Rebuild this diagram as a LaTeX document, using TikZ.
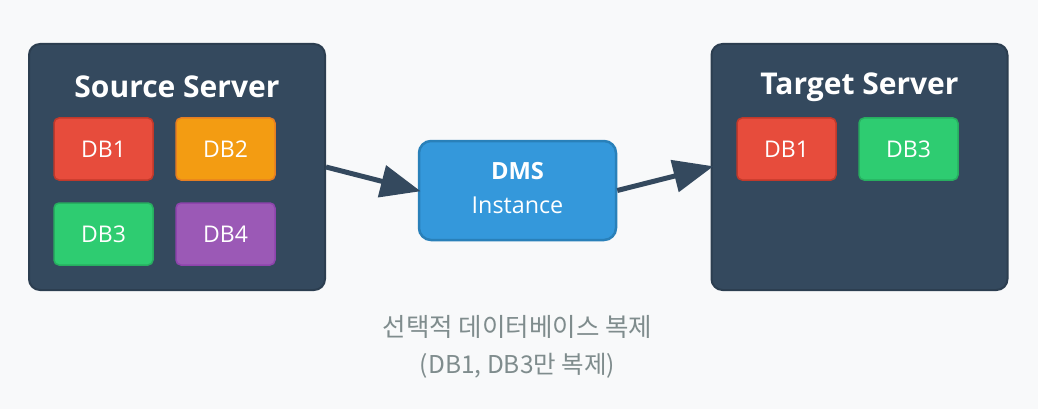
\documentclass[tikz,border=0pt]{standalone}
\usepackage{fontspec}
\setmainfont{Open Sans}
\newfontfamily\krfont{Noto Sans CJK KR}
\usetikzlibrary{arrows.meta}
\definecolor{bg}{HTML}{F8F9FA}
\definecolor{srv}{HTML}{34495E}
\definecolor{srvb}{HTML}{2C3E50}
\definecolor{dbred}{HTML}{E74C3C}
\definecolor{dbredb}{HTML}{C0392B}
\definecolor{dborange}{HTML}{F39C12}
\definecolor{dborangeb}{HTML}{E67E22}
\definecolor{dbgreen}{HTML}{2ECC71}
\definecolor{dbgreenb}{HTML}{27AE60}
\definecolor{dbpurple}{HTML}{9B59B6}
\definecolor{dbpurpleb}{HTML}{8E44AD}
\definecolor{dmsblue}{HTML}{3498DB}
\definecolor{dmsblueb}{HTML}{2980B9}
\definecolor{note}{HTML}{7F8C8D}
\tikzset{
  server/.style={draw=srvb, line width=2pt, fill=srv, rounded corners=11pt, minimum width=296pt, minimum height=246pt, inner sep=0pt},
  srvtitle/.style={text=white, font=\fontsize{30}{36}\selectfont\bfseries},
  dbbox/.style={line width=1.5pt, rounded corners=5pt, minimum width=99pt, minimum height=62pt, inner sep=0pt, text=white, font=\fontsize{23}{28}\selectfont},
  dmsbox/.style={draw=dmsblueb, line width=2.5pt, fill=dmsblue, rounded corners=12pt, minimum width=197pt, minimum height=99pt, inner sep=0pt},
  flow/.style={draw=srv, line width=5pt, -{Triangle[length=40pt,width=32pt]}, shorten >=-3pt},
  notetext/.style={text=note, font=\krfont\fontsize{25.5}{30}\selectfont}
}
\begin{document}
\begin{tikzpicture}[x=1pt,y=-1pt]
\useasboundingbox[fill=bg] (0,0) rectangle (1038,409);
% servers
\node[server] (src) at (177,167) {};
\node[server] (tgt) at (859.5,167) {};
\node[srvtitle] (srct) at (177,87) {Source Server};
\node[srvtitle] (tgtt) at (859.5,87) {Target Server};
% source DBs
\node[dbbox, draw=dbredb, fill=dbred] (s1) at (103.5,149) {DB1};
\node[dbbox, draw=dborangeb, fill=dborange] (s2) at (225.5,149) {DB2};
\node[dbbox, draw=dbgreenb, fill=dbgreen] (s3) at (103.5,234) {DB3};
\node[dbbox, draw=dbpurpleb, fill=dbpurple] (s4) at (225.5,234) {DB4};
% target DBs
\node[dbbox, draw=dbredb, fill=dbred] (t1) at (786.5,149) {DB1};
\node[dbbox, draw=dbgreenb, fill=dbgreen] (t3) at (908.5,149) {DB3};
% DMS
\node[dmsbox] (dms) at (517.5,190.5) {};
\node[text=white, font=\fontsize{23.7}{28}\selectfont\bfseries] (dmst) at (517.5,171) {DMS};
\node[text=white, font=\fontsize{23.3}{28}\selectfont] (dmsi) at (517.5,205) {Instance};
% arrows
\draw[flow] (src.east) -- (dms.west);
\draw[flow] (dms.east) -- (tgt.west);
% note
\node[notetext] (n1) at (517.5,327) {선택적 데이터베이스 복제};
\node[notetext, font=\krfont\fontsize{24.5}{29}\selectfont] (n2) at (517.5,366) {(DB1, DB3만 복제)};
\end{tikzpicture}
\end{document}
